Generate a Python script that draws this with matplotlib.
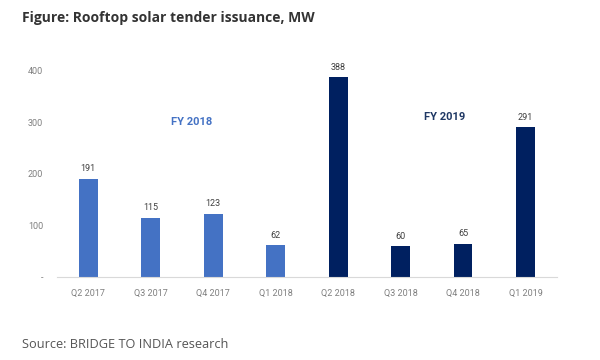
import matplotlib.pyplot as plt

quarters = ["Q2 2017", "Q3 2017", "Q4 2017", "Q1 2018",
            "Q2 2018", "Q3 2018", "Q4 2018", "Q1 2019"]
mw = [191, 115, 123, 62, 388, 60, 65, 291]
fiscal = ["FY 2018"] * 4 + ["FY 2019"] * 4
yticks = [0, 100, 200, 300, 400]
ytick_labels = ["-", "100", "200", "300", "400"]

colours = {"FY 2018": "#4472C4", "FY 2019": "#002060"}

fig = plt.figure(figsize=(6, 3.6), dpi=100)
ax = fig.add_axes([0.095, 0.2306, 0.833, 0.6008])

x = range(len(quarters))
bars = ax.bar(x, mw, width=0.3, color=[colours[f] for f in fiscal])

for b, v in zip(bars, mw):
    ax.annotate(str(v), (b.get_x() + b.get_width() / 2, v),
                xytext=(0, 4), textcoords="offset points",
                ha="center", va="bottom", fontsize=6.5, color="#404040",
                family="Roboto")

ax.set_xlim(-0.5, 7.5)
ax.set_ylim(0, 420)
ax.set_xticks(list(x))
ax.set_xticklabels(quarters, fontsize=6.5, color="#7f7f7f", family="Roboto")
ax.set_yticks(yticks)
ax.set_yticklabels(ytick_labels, fontsize=6.5, color="#7f7f7f", family="Roboto")
ax.tick_params(length=0, pad=9)
ax.tick_params(axis="y", pad=10)

for s in ["top", "right", "left"]:
    ax.spines[s].set_visible(False)
ax.spines["bottom"].set_color("#d9d9d9")

ax.text(1.65, 300, "FY 2018", color="#4472C4", fontsize=8, fontweight="bold",
        ha="center", va="center", family="Roboto")
ax.text(5.7, 310, "FY 2019", color="#1f3864", fontsize=8, fontweight="bold",
        ha="center", va="center", family="Roboto")

fig.text(0.037, 0.95, "Figure: Rooftop solar tender issuance, MW",
         fontsize=10, fontweight="bold", color="#333333", family="Open Sans",
         va="center")
fig.text(0.037, 0.042, "Source: BRIDGE TO INDIA research",
         fontsize=9.2, color="#555555", family="Open Sans", va="center")

fig.savefig("out.png", dpi=100)
